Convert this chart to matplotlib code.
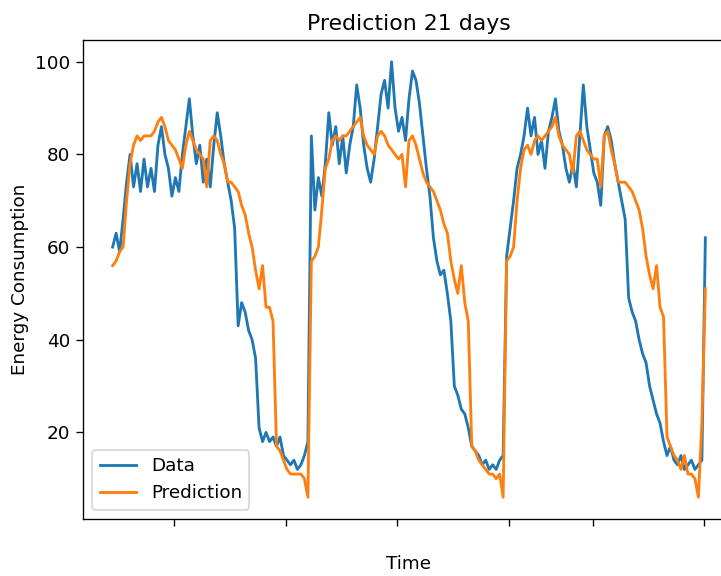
import numpy as np
import matplotlib
matplotlib.use("Agg")
import matplotlib.pyplot as plt

plt.rcParams.update({
    "font.size": 11, "axes.titlesize": 13.2, "axes.labelsize": 11,
    "legend.fontsize": 11, "xtick.labelsize": 11, "ytick.labelsize": 11,
    "lines.linewidth": 1.7, "xtick.major.size": 4, "ytick.major.size": 4,
})

# 3-hourly samples over the 21-day window (hours since start)
STEP_H = 3
data = [
    60, 63, 59, 66, 74, 80, 73, 78, 72, 79, 73, 77, 72, 82, 86, 80, 77, 71, 75, 72,
    80, 86, 92, 84, 78, 82, 74, 79, 73, 82, 89, 84, 78, 74, 70, 64, 43, 48, 46, 42,
    40, 36, 21, 18, 20, 18, 19, 17, 19, 15, 14, 13, 14, 12, 13, 15, 18, 84, 68, 75,
    71, 78, 89, 82, 86, 78, 84, 76, 82, 86, 95, 90, 82, 77, 74, 79, 86, 93, 96, 90,
    100, 90, 85, 88, 83, 92, 98, 96, 91, 84, 77, 71, 62, 57, 54, 55, 50, 44, 30, 28,
    25, 24, 21, 17, 16, 15, 13, 14, 12, 13, 12, 14, 15, 58, 64, 70, 77, 80, 84, 90,
    84, 88, 80, 83, 77, 85, 88, 92, 85, 82, 77, 74, 78, 73, 84, 95, 86, 81, 76, 74,
    69, 84, 86, 83, 78, 74, 70, 66, 49, 46, 44, 40, 37, 35, 30, 27, 24, 22, 18, 15,
    17, 14, 13, 15, 12, 13, 14, 12, 13, 14, 62,
]
prediction = [
    56, 57, 59, 60, 70, 78, 82, 84, 83, 84, 84, 84, 85, 87, 88, 86, 83, 82, 81, 79,
    77, 82, 85, 83, 81, 80, 79, 73, 83, 84, 83, 80, 78, 74, 74, 73, 72, 69, 67, 63,
    60, 55, 51, 56, 47, 47, 44, 17, 16, 14, 12, 11, 11, 11, 11, 10, 6, 57, 58, 60,
    68, 77, 79, 83, 84, 83, 84, 84, 85, 86, 87, 88, 84, 82, 81, 80, 84, 85, 84, 82,
    81, 80, 79, 80, 73, 83, 84, 82, 79, 76, 74, 73, 72, 70, 68, 65, 63, 57, 53, 50,
    56, 48, 44, 17, 16, 14, 13, 12, 11, 11, 10, 11, 6, 57, 58, 60, 70, 77, 81, 82,
    80, 83, 84, 83, 84, 85, 86, 88, 84, 82, 81, 80, 76, 84, 85, 83, 81, 80, 79, 79,
    73, 84, 85, 81, 78, 74, 74, 74, 73, 72, 70, 68, 64, 58, 54, 51, 56, 47, 45, 19,
    17, 15, 14, 12, 15, 11, 11, 10, 6, 22, 51,
]
tick_hours = [53, 149, 245, 341, 413, 509]

hours = np.arange(len(data)) * STEP_H

fig = plt.figure(figsize=(721 / 120, 576 / 120), dpi=120)
# axes runs past the right edge, like the cropped original
ax = fig.add_axes([83 / 721, 57 / 576, 652 / 721, 479 / 576])
ax.plot(hours, data, label="Data")
ax.plot(hours, prediction, label="Prediction")
ax.set_xticks(tick_hours)
ax.set_xticklabels([""] * len(tick_hours))
ax.set_title("Prediction 21 days")
ax.set_xlabel("Time", labelpad=14)
ax.set_ylabel("Energy Consumption")
ax.legend(loc="lower left")
fig.savefig("out.png", dpi=120)
